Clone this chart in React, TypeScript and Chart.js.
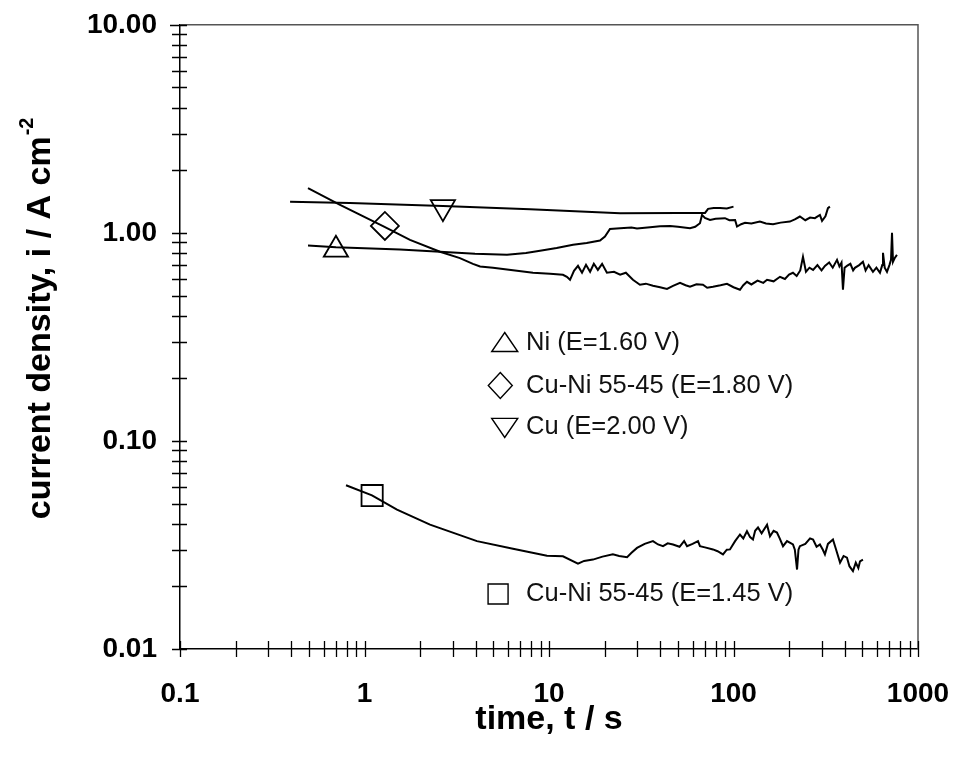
import React, { useEffect, useRef } from 'react';
import { Chart, registerables } from 'chart.js';

Chart.register(...registerables);

// ---------- data ----------
const xTickValues = [0.1, 1, 10, 100, 1000];
const xTickLabels = ['0.1', '1', '10', '100', '1000'];
const yTickValues = [0.01, 0.1, 1, 10];
const yTickLabels = ['0.01', '0.10', '1.00', '10.00'];

const xTitle = 'time, t / s';
const yTitleMain = 'current density, i / A cm';
const yTitleSup = '-2';

// Cu (E=2.00 V)
const cuSeries: [number, number][] = [
  [0.395, 1.413], [0.834, 1.393], [2.66, 1.348], [7.89, 1.297], [24.3, 1.243],
  [50, 1.245], [70.1, 1.247], [72.8, 1.304], [78, 1.315], [84.5, 1.318], [92, 1.31], [100, 1.337],
];

// Ni (E=1.60 V)
const niSeries: [number, number][] = [
  [0.494, 0.869], [0.7, 0.852], [1.557, 0.833], [2.566, 0.811], [3.97, 0.793], [5.92, 0.784],
  [7.5, 0.8], [8.94, 0.82], [11, 0.845], [13.5, 0.876], [16, 0.895], [18.9, 0.918], [20.1, 0.96],
  [21.4, 1.045], [24.3, 1.053], [28, 1.06], [30, 1.05], [35.3, 1.065], [40, 1.075], [45.3, 1.08],
  [50, 1.07], [58.1, 1.053], [62, 1.07], [65.8, 1.113], [67.5, 1.22], [70, 1.18], [74.6, 1.154],
  [80, 1.17], [89.9, 1.177], [95, 1.15], [102, 1.154], [104.5, 1.072], [110, 1.1], [115.5, 1.117],
  [125, 1.11], [139, 1.133], [150, 1.11], [163.8, 1.101], [180, 1.12], [202, 1.133], [215, 1.16],
  [229, 1.198], [245, 1.15], [260, 1.185], [276, 1.177], [294, 1.22], [302, 1.142], [315, 1.2],
  [325, 1.314], [333, 1.337],
];

// Cu-Ni 55-45 (E=1.80 V)
const cuNi180Series: [number, number][] = [
  [0.494, 1.639], [0.737, 1.363], [1.276, 1.072], [1.764, 0.926], [2.566, 0.811], [3.29, 0.756],
  [3.87, 0.71], [4.23, 0.689], [4.97, 0.679], [6.38, 0.661], [8.19, 0.643], [10.13, 0.636],
  [11.9, 0.629], [12.5, 0.615], [13.0, 0.595], [13.66, 0.657], [14.36, 0.694], [15.1, 0.643],
  [15.87, 0.702], [16.7, 0.65], [17.5, 0.71], [18.4, 0.664], [19.4, 0.71], [20.6, 0.643],
  [22.5, 0.65], [24.3, 0.629], [26.1, 0.643], [28.5, 0.595], [31.1, 0.563], [33.5, 0.57],
  [36.6, 0.557], [40, 0.548], [43.6, 0.538], [47, 0.556], [51.3, 0.575], [55, 0.56], [58.1, 0.551],
  [63, 0.566], [68.3, 0.563], [72, 0.545], [77.4, 0.551], [85, 0.56], [92.2, 0.569], [100, 0.548],
  [108.4, 0.533], [113, 0.56], [118.3, 0.582], [125, 0.565], [135, 0.59], [145, 0.575], [152, 0.595],
  [165, 0.585], [178.6, 0.615], [190, 0.6], [200, 0.63], [210, 0.643], [220, 0.62], [230, 0.66],
  [238, 0.767], [247, 0.65], [258, 0.68], [270, 0.664], [285, 0.7], [300, 0.66], [313, 0.694],
  [330, 0.72], [345, 0.68], [364, 0.742], [375, 0.69], [385, 0.72], [392, 0.533], [400, 0.68],
  [412, 0.694], [430, 0.71], [445, 0.66], [455, 0.679], [480, 0.7], [503, 0.726], [520, 0.66],
  [540, 0.7], [570, 0.65], [595, 0.68], [622, 0.643], [640, 0.7], [646, 0.802], [660, 0.68],
  [679, 0.65], [700, 0.7], [714, 0.742], [723, 1.0], [732, 0.726], [750, 0.76], [769, 0.784],
];

// Cu-Ni 55-45 (E=1.45 V)
const cuNi145Series: [number, number][] = [
  [0.794, 0.0612], [1.098, 0.0548], [1.5, 0.0468], [2.265, 0.0396], [4.07, 0.033], [6.38, 0.0303],
  [9.75, 0.0281], [11.9, 0.0279], [14.36, 0.0257], [15.5, 0.0265], [17.3, 0.0269], [19.5, 0.0278],
  [22.2, 0.0285], [24, 0.028], [26.5, 0.0276], [28, 0.029], [30, 0.0306], [33, 0.032], [36.6, 0.033],
  [39, 0.0318], [41.5, 0.0312], [44, 0.0322], [47, 0.0318], [51, 0.031], [54, 0.033], [56, 0.0312],
  [60, 0.032], [64.2, 0.033], [65.8, 0.0312], [70, 0.0308], [77.4, 0.0301], [82, 0.0295],
  [87.7, 0.0285], [92, 0.03], [95.7, 0.0301], [102, 0.033], [108.4, 0.0355], [113, 0.034],
  [118.3, 0.0368], [123, 0.0345], [127.5, 0.0336], [131, 0.037], [135.8, 0.0384], [142, 0.036],
  [152, 0.0396], [157.7, 0.0348], [165, 0.037], [172, 0.0363], [178, 0.034], [185.5, 0.0312],
  [195, 0.033], [210, 0.0318], [215, 0.03], [221, 0.0241], [225, 0.03], [229, 0.0312], [245, 0.032],
  [260, 0.034], [270, 0.0336], [282, 0.031], [294, 0.0318], [305, 0.03], [313, 0.0285], [325, 0.032],
  [346, 0.0336], [360, 0.03], [378, 0.026], [395, 0.028], [412, 0.0275], [425, 0.025], [444, 0.0237],
  [460, 0.026], [475, 0.0245], [485, 0.0264], [503, 0.0269],
];

// markers on the curves
const niMarker: [number, number][] = [[0.7, 0.83]];
const cuNi180Marker: [number, number][] = [[1.29, 1.08]];
const cuMarker: [number, number][] = [[2.66, 1.33]];
const cuNi145Marker: [number, number][] = [[1.1, 0.0546]];

// in-plot legend
const legendLabels = ['Ni (E=1.60 V)', 'Cu-Ni 55-45 (E=1.80 V)', 'Cu (E=2.00 V)', 'Cu-Ni 55-45 (E=1.45 V)'];
const legendSymbols = ['triangle', 'diamond', 'triangleDown', 'square'];

const FONT = '"Liberation Sans", Arial, sans-serif';

const toPts = (arr: [number, number][]) => arr.map(([x, y]) => ({ x, y }));

function drawSymbol(ctx: CanvasRenderingContext2D, kind: string, cx: number, cy: number) {
  ctx.beginPath();
  if (kind === 'triangle') {
    ctx.moveTo(cx, cy - 10);
    ctx.lineTo(cx + 13, cy + 9);
    ctx.lineTo(cx - 13, cy + 9);
    ctx.closePath();
  } else if (kind === 'triangleDown') {
    ctx.moveTo(cx - 13, cy - 9);
    ctx.lineTo(cx + 13, cy - 9);
    ctx.lineTo(cx, cy + 10);
    ctx.closePath();
  } else if (kind === 'diamond') {
    ctx.moveTo(cx, cy - 13);
    ctx.lineTo(cx + 12, cy);
    ctx.lineTo(cx, cy + 13);
    ctx.lineTo(cx - 12, cy);
    ctx.closePath();
  } else {
    ctx.rect(cx - 10, cy - 10, 20, 20);
  }
  ctx.stroke();
}

const decoPlugin = {
  id: 'deco',
  afterDraw(chart: any) {
    const ctx: CanvasRenderingContext2D = chart.ctx;
    const { left, right, top, bottom } = chart.chartArea;
    const xs = chart.scales.x;
    const ys = chart.scales.y;
    ctx.save();
    // top and right frame
    ctx.strokeStyle = '#555';
    ctx.lineWidth = 1.5;
    ctx.beginPath();
    ctx.moveTo(left, top);
    ctx.lineTo(right, top);
    ctx.lineTo(right, bottom);
    ctx.stroke();

    // crossing ticks
    ctx.strokeStyle = '#000';
    ctx.lineWidth = 1.3;
    ctx.beginPath();
    for (let d = -1; d < 3; d++) {
      for (let m = 1; m < 10; m++) {
        const px = Math.round(xs.getPixelForValue(m * Math.pow(10, d))) + 0.5;
        ctx.moveTo(px, bottom - 8);
        ctx.lineTo(px, bottom + 8);
      }
    }
    const pxEnd = Math.round(xs.getPixelForValue(1000)) + 0.5;
    ctx.moveTo(pxEnd, bottom - 8);
    ctx.lineTo(pxEnd, bottom + 8);
    for (let d = -2; d < 1; d++) {
      for (let m = 1; m < 10; m++) {
        const py = Math.round(ys.getPixelForValue(m * Math.pow(10, d))) + 0.5;
        ctx.moveTo(left - 8, py);
        ctx.lineTo(left + 7, py);
      }
    }
    const pyEnd = Math.round(ys.getPixelForValue(10)) + 0.5;
    ctx.moveTo(left - 10, pyEnd);
    ctx.lineTo(left + 7, pyEnd);
    ctx.stroke();

    // axis titles
    ctx.fillStyle = '#000';
    ctx.font = `bold 34px ${FONT}`;
    ctx.textAlign = 'center';
    ctx.textBaseline = 'alphabetic';
    ctx.fillText(xTitle, (left + right) / 2, 721);

    ctx.save();
    const cy = (top + bottom) / 2 - 18;
    ctx.translate(32, cy);
    ctx.rotate(-Math.PI / 2);
    ctx.font = `bold 34px ${FONT}`;
    const wMain = ctx.measureText(yTitleMain).width;
    ctx.font = `bold 20px ${FONT}`;
    const wSup = ctx.measureText(yTitleSup).width;
    const start = -(wMain + wSup) / 2;
    ctx.textAlign = 'left';
    ctx.textBaseline = 'alphabetic';
    ctx.font = `bold 34px ${FONT}`;
    ctx.fillText(yTitleMain, start, 10);
    ctx.font = `bold 20px ${FONT}`;
    ctx.fillText(yTitleSup, start + wMain + 1, -7);
    ctx.restore();

    // in-plot legend
    const w = right - left;
    const h = bottom - top;
    const rowsY = [0.509, 0.578, 0.645, 0.912];
    const symX = [0.44, 0.434, 0.44, 0.431];
    ctx.font = `25.5px ${FONT}`;
    ctx.textAlign = 'left';
    ctx.textBaseline = 'middle';
    ctx.strokeStyle = '#000';
    ctx.lineWidth = 1.4;
    legendLabels.forEach((lab, i) => {
      const yy = top + rowsY[i] * h;
      drawSymbol(ctx, legendSymbols[i], left + symX[i] * w, yy);
      ctx.fillStyle = '#111';
      ctx.fillText(lab, left + 0.469 * w, yy);
    });
    ctx.restore();
  },
};

export default function App() {
  const ref = useRef<HTMLCanvasElement | null>(null);

  useEffect(() => {
    if (!ref.current) return;
    const lineDs = (data: [number, number][]) => ({
      data: toPts(data),
      showLine: true,
      borderColor: '#000',
      borderWidth: 2,
      pointRadius: 0,
      tension: 0,
      fill: false,
    });
    const markerDs = (data: [number, number][], style: string, rotation = 0, radius = 14) => ({
      data: toPts(data),
      showLine: false,
      pointStyle: style,
      rotation,
      pointRadius: radius,
      pointBorderColor: '#000',
      borderColor: '#000',
      pointBorderWidth: 1.8,
      pointBackgroundColor: 'rgba(0,0,0,0)',
      backgroundColor: 'rgba(0,0,0,0)',
    });

    const chart = new Chart(ref.current, {
      type: 'scatter',
      data: {
        datasets: [
          lineDs(cuSeries),
          lineDs(niSeries),
          lineDs(cuNi180Series),
          lineDs(cuNi145Series),
          markerDs(niMarker, 'triangle'),
          markerDs(cuNi180Marker, 'rectRot'),
          markerDs(cuMarker, 'triangle', 180),
          markerDs(cuNi145Marker, 'rect', 0, 15),
        ] as any,
      },
      options: {
        animation: false,
        responsive: false,
        maintainAspectRatio: false,
        layout: { padding: { left: 0, right: 34, top: 16, bottom: 0 } },
        plugins: { legend: { display: false }, tooltip: { enabled: false } },
        scales: {
          x: {
            type: 'logarithmic',
            min: 0.1,
            max: 1000,
            grid: { display: false, drawTicks: false, tickLength: 0 },
            border: { display: true, color: '#000', width: 1.5 },
            afterBuildTicks: (scale: any) => {
              scale.ticks = xTickValues.map((v) => ({ value: v }));
            },
            afterFit: (scale: any) => {
              scale.height = 107;
              scale.paddingLeft = 0;
              scale.paddingRight = 0;
            },
            ticks: {
              autoSkip: false,
              maxRotation: 0,
              padding: 28,
              color: '#000',
              font: { family: FONT, size: 28, weight: 'bold' },
              callback: (v: any) => {
                const i = xTickValues.indexOf(Number(v));
                return i >= 0 ? xTickLabels[i] : '';
              },
            },
          },
          y: {
            type: 'logarithmic',
            min: 0.01,
            max: 10,
            grid: { display: false, drawTicks: false, tickLength: 0 },
            border: { display: true, color: '#000', width: 1.5 },
            afterBuildTicks: (scale: any) => {
              scale.ticks = yTickValues.map((v) => ({ value: v }));
            },
            afterFit: (scale: any) => {
              scale.width = 172;
              scale.paddingTop = 0;
              scale.paddingBottom = 0;
            },
            ticks: {
              autoSkip: false,
              padding: 23,
              color: '#000',
              font: { family: FONT, size: 28, weight: 'bold' },
              callback: (v: any) => {
                const i = yTickValues.indexOf(Number(v));
                return i >= 0 ? yTickLabels[i] : '';
              },
            },
          },
        },
      } as any,
      plugins: [decoPlugin],
    });
    return () => chart.destroy();
  }, []);

  return (
    <div style={{ width: 944, height: 748 }}>
      <canvas ref={ref} width={944} height={748} style={{ width: 944, height: 748, display: 'block' }} />
    </div>
  );
}
